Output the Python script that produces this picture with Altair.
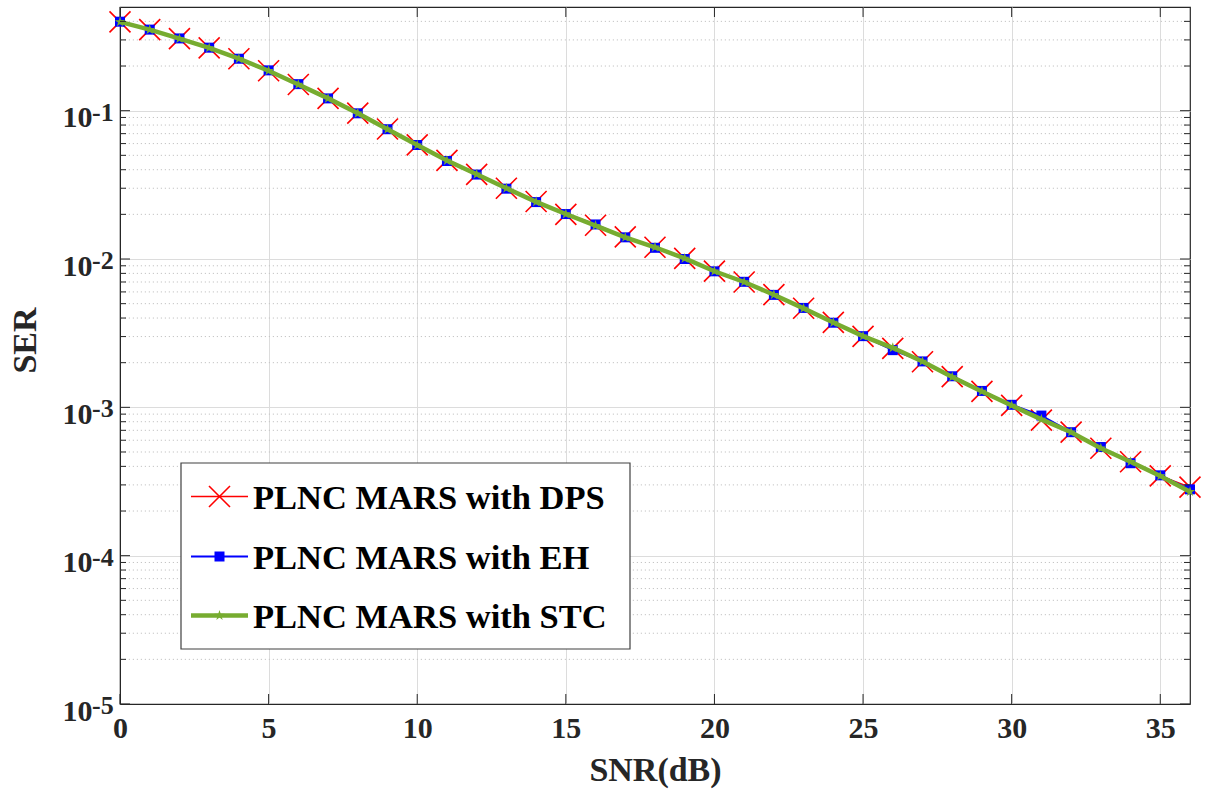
import altair as alt
import pandas as pd

# ---------------- data ----------------
snr = list(range(37))
ser_dps = [0.397, 0.352, 0.306, 0.265, 0.224, 0.186, 0.150, 0.121, 0.0962, 0.0752,
           0.0588, 0.0462, 0.0372, 0.0300, 0.0244, 0.0200, 0.0169, 0.0141, 0.0120, 0.0101,
           0.00828, 0.00700, 0.00575, 0.00466, 0.00374, 0.00301, 0.00250, 0.00203, 0.00161, 0.00128,
           0.00103, 0.00082, 0.00068, 0.00053, 0.00043, 0.000345, 0.00029]
ser_eh = [0.398, 0.352, 0.307, 0.266, 0.224, 0.187, 0.151, 0.121, 0.0960, 0.0750,
          0.0587, 0.0458, 0.0371, 0.0298, 0.0242, 0.0201, 0.0171, 0.0140, 0.0119, 0.0100,
          0.00826, 0.00702, 0.00573, 0.00468, 0.00372, 0.00302, 0.00243, 0.00204, 0.00162, 0.00129,
          0.00104, 0.00088, 0.00068, 0.00054, 0.00042, 0.000348, 0.00028]
ser_stc = [0.397, 0.352, 0.306, 0.265, 0.224, 0.186, 0.150, 0.121, 0.0960, 0.0750,
           0.0586, 0.0461, 0.0373, 0.0300, 0.0243, 0.0201, 0.0168, 0.0140, 0.0120, 0.0101,
           0.00827, 0.00700, 0.00574, 0.00465, 0.00373, 0.00302, 0.00252, 0.00204, 0.00160, 0.00128,
           0.00103, 0.00083, 0.00068, 0.00053, 0.00043, 0.000345, 0.00027]

series_names = ["PLNC MARS with DPS", "PLNC MARS with EH", "PLNC MARS with STC"]

x_ticks = [0, 5, 10, 15, 20, 25, 30, 35]
y_decades = [1e-5, 1e-4, 1e-3, 1e-2, 1e-1]
y_exponents = ["-5", "-4", "-3", "-2", "-1"]
y_minor = [k * 10.0 ** e for e in range(-5, 0) for k in range(2, 10) if k * 10.0 ** e < 0.5]

# ---------------- style ----------------
W, H = 1070, 697
FONT = "Liberation Serif"
AX = "#262626"
RED, BLUE, GREEN = "#FF0000", "#0000FF", "#77AC30"
XPATH = "M-1,-1L1,1M-1,1L1,-1"
STAR = ("M0,-1L0.2245,-0.309L0.951,-0.309L0.363,0.118L0.588,0.809L0,0.382"
        "L-0.588,0.809L-0.363,0.118L-0.951,-0.309L-0.2245,-0.309Z")

xs = alt.Scale(domain=[0, 36], nice=False, zero=False)
ys = alt.Scale(type="log", domain=[1e-5, 0.5], nice=False)

df_dps = pd.DataFrame({"snr": snr, "ser": ser_dps})
df_eh = pd.DataFrame({"snr": snr, "ser": ser_eh})
df_stc = pd.DataFrame({"snr": snr, "ser": ser_stc})

x_axis = alt.Axis(values=x_ticks, title="SNR(dB)", grid=True, gridColor="#dcdcdc",
                  ticks=False, tickSize=0, labelFont=FONT, labelFontSize=30,
                  labelFontWeight="bold", labelColor=AX, labelPadding=9, labelFlush=False,
                  titleFont=FONT, titleFontSize=34, titleFontWeight="bold", titleColor=AX,
                  titleY=76, titleBaseline="alphabetic", domainColor=AX)
y_axis = alt.Axis(values=y_decades, labelExpr="'10'", title="SER", grid=True, gridColor="#dcdcdc",
                  ticks=False, tickSize=0, labelFont=FONT, labelFontSize=30,
                  labelFontWeight="bold", labelColor=AX, labelAlign="right",
                  labelBaseline="alphabetic", labelOffset=16, labelPadding=28,
                  titleFont=FONT, titleFontSize=34, titleFontWeight="bold", titleColor=AX,
                  titleAngle=270, titleX=-85, titleY=333, titleBaseline="alphabetic",
                  titleAlign="center", domainColor=AX)


def X(field):
    return alt.X(field, scale=xs, axis=x_axis)


def Y(field):
    return alt.Y(field, scale=ys, axis=y_axis)


# minor dotted grid
minor_df = pd.DataFrame({"v": y_minor})
minor_grid = alt.Chart(minor_df).mark_rule(color="#c4c4c4", strokeWidth=1, strokeDash=[1.2, 2.8]).encode(
    y=Y("v:Q"))


def series(df, color, width, shape, size, filled, stroke_w):
    line = alt.Chart(df).mark_line(color=color, strokeWidth=width).encode(x=X("snr:Q"), y=Y("ser:Q"))
    pts = alt.Chart(df).mark_point(shape=shape, size=size, filled=filled, color=color,
                                   strokeWidth=stroke_w, opacity=1).encode(
        x=X("snr:Q"), y=Y("ser:Q"))
    return [line, pts]


layers_series = []
layers_series += series(df_dps, RED, 1.5, XPATH, 441, False, 1.6)
layers_series += series(df_eh, BLUE, 2, "square", 100, True, 1)
layers_series += series(df_stc, GREEN, 4.5, STAR, 120, True, 1.5)

# inward ticks
xt_df = pd.DataFrame({"v": x_ticks})
yt_df = pd.DataFrame({"v": y_decades})
tick_layers = [
    alt.Chart(xt_df).mark_rule(color=AX, strokeWidth=1).encode(
        x=X("v:Q"), y=alt.value(H), y2=alt.value(H - 10)),
    alt.Chart(xt_df).mark_rule(color=AX, strokeWidth=1).encode(
        x=X("v:Q"), y=alt.value(0), y2=alt.value(10)),
    alt.Chart(yt_df).mark_rule(color=AX, strokeWidth=1).encode(
        y=Y("v:Q"), x=alt.value(0), x2=alt.value(10)),
    alt.Chart(yt_df).mark_rule(color=AX, strokeWidth=1).encode(
        y=Y("v:Q"), x=alt.value(W), x2=alt.value(W - 10)),
    alt.Chart(minor_df).mark_rule(color=AX, strokeWidth=1).encode(
        y=Y("v:Q"), x=alt.value(0), x2=alt.value(6)),
    alt.Chart(minor_df).mark_rule(color=AX, strokeWidth=1).encode(
        y=Y("v:Q"), x=alt.value(W), x2=alt.value(W - 6)),
]

# exponents of y labels
exp_df = pd.DataFrame({"v": y_decades, "e": y_exponents})
exp_text = alt.Chart(exp_df).mark_text(align="left", baseline="alphabetic", dy=10, font=FONT,
                                       fontSize=26, fontWeight="bold", color=AX).encode(
    y=Y("v:Q"), x=alt.value(-28), text="e:N")

# legend
one = pd.DataFrame({"a": [0]})
LX0, LX1, LY0, LY1 = 61, 510, 456, 642
rows = [489.5, 549.5, 608.5]
leg = [alt.Chart(one).mark_rect(fill="white", stroke="#404040", strokeWidth=1.2).encode(
    x=alt.value(LX0), x2=alt.value(LX1), y=alt.value(LY0), y2=alt.value(LY1))]
leg_specs = [(RED, 1.5, XPATH, 441, False, 1.6),
             (BLUE, 2, "square", 100, True, 1),
             (GREEN, 4.5, STAR, 120, True, 1.5)]
for ry, name, (c, w, shp, sz, fl, sw) in zip(rows, series_names, leg_specs):
    leg.append(alt.Chart(one).mark_rule(color=c, strokeWidth=w).encode(
        x=alt.value(71), x2=alt.value(128), y=alt.value(ry)))
    leg.append(alt.Chart(one).mark_point(shape=shp, size=sz, filled=fl, color=c,
                                         strokeWidth=sw, opacity=1).encode(
        x=alt.value(99.5), y=alt.value(ry)))
    leg.append(alt.Chart(one).mark_text(align="left", baseline="alphabetic", font=FONT,
                                        fontSize=34.5, fontWeight="bold", color="black",
                                        text=name).encode(
        x=alt.value(133), y=alt.value(ry + 12.5)))

chart = alt.layer(minor_grid, *layers_series, *tick_layers, exp_text, *leg).properties(
    width=W, height=H,
    autosize=alt.AutoSizeParams(type="none"),
    padding={"left": 120, "top": 7, "right": 17, "bottom": 85},
    background="white",
).configure_view(stroke=AX, strokeWidth=1.2)

chart.save("out.html", embed_options={"renderer": "svg", "actions": False})
